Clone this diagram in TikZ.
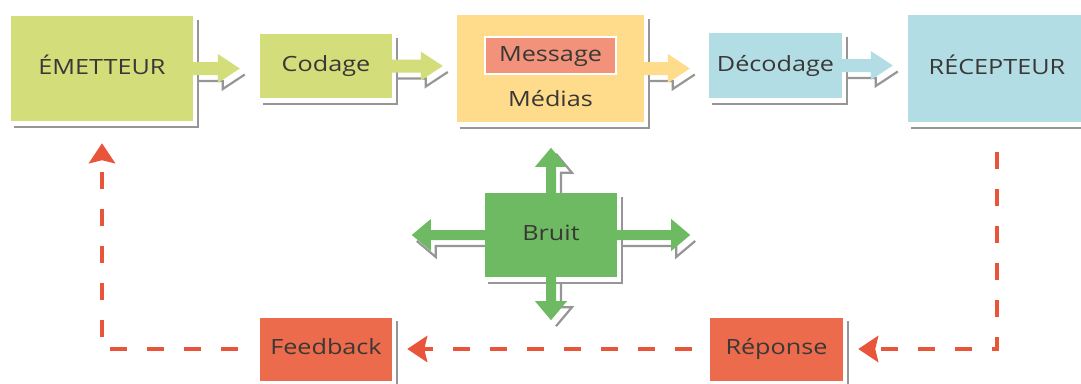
\documentclass[tikz,border=0pt]{standalone}
\usepackage{fontspec}
\setmainfont{Open Sans}[FakeStretch=1.2]
\usetikzlibrary{arrows.meta,calc}

\definecolor{cLime}{RGB}{211,221,121}
\definecolor{cYellow}{RGB}{255,219,140}
\definecolor{cSalmon}{RGB}{242,146,122}
\definecolor{cBlue}{RGB}{179,221,228}
\definecolor{cGreen}{RGB}{109,186,99}
\definecolor{cRed}{RGB}{236,107,76}
\definecolor{fbRed}{RGB}{233,85,58}
\definecolor{txtGray}{RGB}{58,56,54}
\definecolor{shGray}{RGB}{150,150,150}

\pgfdeclarelayer{shadowlayer}
\pgfsetlayers{shadowlayer,main}

% horizontal block arrow: tail, tip, path options
\newcommand\hblock[3]{%
  \path[#3] let \p1=(#1), \p2=(#2), \n1={sign(\x2-\x1)} in
  (\x1,{\y1+\arshaft}) -- ({\x2-(\n1)*\arheadl},{\y1+\arshaft})
  -- ({\x2-(\n1)*\arheadl},{\y1+\arheadw}) -- (\x2,\y1)
  -- ({\x2-(\n1)*\arheadl},{\y1-\arheadw}) -- ({\x2-(\n1)*\arheadl},{\y1-\arshaft})
  -- (\x1,{\y1-\arshaft}) -- cycle;}
% its drop shadow: the lower outline, moved right and down
\newcommand\hshadow[3]{%
  \path[#3] let \p1=(#1), \p2=(#2), \n1={sign(\x2-\x1)} in
  ({\x1+5pt},{\y1-\arshaft-6pt}) -- ({\x2-(\n1)*\arheadl+5pt},{\y1-\arshaft-6pt})
  -- ({\x2-(\n1)*\arheadl+5pt},{\y1-\arheadw-6pt}) -- ({\x2+5pt},{\y1-6pt});}
% vertical block arrow: tail, tip, path options
\newcommand\vblock[3]{%
  \path[#3] let \p1=(#1), \p2=(#2), \n1={sign(\y2-\y1)} in
  ({\x1+\arshaft},\y1) -- ({\x1+\arshaft},{\y2-(\n1)*\arheadl})
  -- ({\x1+\arheadw},{\y2-(\n1)*\arheadl}) -- (\x1,\y2)
  -- ({\x1-\arheadw},{\y2-(\n1)*\arheadl}) -- ({\x1-\arshaft},{\y2-(\n1)*\arheadl})
  -- ({\x1-\arshaft},\y1) -- cycle;}
% its drop shadow: the right outline, moved right and down
\newcommand\vshadow[3]{%
  \path[#3] let \p1=(#1), \p2=(#2), \n1={sign(\y2-\y1)} in
  ({\x1+\arshaft+5pt},{\y1-6pt}) -- ({\x1+\arshaft+5pt},{\y2-(\n1)*\arheadl-6pt})
  -- ({\x1+\arheadw+5pt},{\y2-(\n1)*\arheadl-6pt}) -- ({\x1+5pt},{\y2-6pt});}

\begin{document}
\begin{tikzpicture}[x=1pt,y=-1pt,
  panel/.style={rectangle,inner sep=0pt,text=txtGray,text height=15pt,text depth=4pt,
    font=\fontsize{21}{25}\selectfont},
  boxshadow/.style={draw=shGray,line width=2.2pt},
  fb/.style={draw=fbRed,line width=4.5pt,dash pattern=on 17pt off 20pt},
  fbtip/.style={-{Stealth[length=20pt,width=26pt,inset=3pt]}}
]
\useasboundingbox (0,0) rectangle (1081,383);

% top row
\node[panel,fill=cLime,minimum width=182pt,minimum height=105pt] (emet) at (102,68.5) {ÉMETTEUR};
\node[panel,fill=cLime,minimum width=132pt,minimum height=64pt] (cod) at (326,66) {Codage};
\node[panel,fill=cYellow,minimum width=187pt,minimum height=107pt] (med) at (550.5,68.5) {};
\node[panel,fill=cSalmon,draw=white,line width=2pt,minimum width=131pt,minimum height=37pt] (msg) at (550.5,55.5) {Message};
\node[panel] (medlbl) at (550.5,101) {Médias};
\node[panel,fill=cBlue,minimum width=133pt,minimum height=65pt] (dec) at (775.5,65.5) {Décodage};
\node[panel,fill=cBlue,minimum width=178pt,minimum height=107pt] (rec) at (997,68.5) {RÉCEPTEUR};

% noise
\node[panel,fill=cGreen,minimum width=132pt,minimum height=84pt] (bruit) at (551,235) {Bruit};

% feedback row
\node[panel,fill=cRed,minimum width=132pt,minimum height=63pt] (feed) at (326,349) {Feedback};
\node[panel,fill=cRed,minimum width=133pt,minimum height=63pt] (rep) at (776.5,349) {Réponse};

% block arrows of the top row
\def\arshaft{6.5pt}\def\arheadw{14.5pt}\def\arheadl{22pt}
\hblock{emet.east}{[xshift=-20pt]cod.west}{fill=cLime}
\hblock{cod.east}{[xshift=-14pt]med.west}{fill=cLime}
\hblock{med.east}{[xshift=-19pt]dec.west}{fill=cYellow}
\hblock{dec.east}{[xshift=-15pt]rec.west}{fill=cBlue}
\begin{pgfonlayer}{shadowlayer}
  \hshadow{emet.east}{[xshift=-20pt]cod.west}{boxshadow}
  \hshadow{cod.east}{[xshift=-14pt]med.west}{boxshadow}
  \hshadow{med.east}{[xshift=-19pt]dec.west}{boxshadow}
  \hshadow{dec.east}{[xshift=-15pt]rec.west}{boxshadow}
\end{pgfonlayer}

% noise arrows
\def\arshaft{5pt}\def\arheadw{16pt}\def\arheadl{19pt}
\vblock{bruit.north}{[yshift=45pt]bruit.north}{fill=cGreen}
\vblock{bruit.south}{[yshift=-43pt]bruit.south}{fill=cGreen}
\hblock{bruit.west}{[xshift=-73pt]bruit.west}{fill=cGreen}
\hblock{bruit.east}{[xshift=73pt]bruit.east}{fill=cGreen}
\begin{pgfonlayer}{shadowlayer}
  \vshadow{bruit.north}{[yshift=45pt]bruit.north}{boxshadow}
  \vshadow{bruit.south}{[yshift=-43pt]bruit.south}{boxshadow}
  \hshadow{bruit.west}{[xshift=-73pt]bruit.west}{boxshadow}
  \hshadow{bruit.east}{[xshift=73pt]bruit.east}{boxshadow}
  % box shadows: right and bottom edges
  \foreach \n in {emet,cod,med,dec,rec,bruit,feed,rep}
    \draw[boxshadow] ([shift={(5,4)}]\n.north east) -- ([shift={(5,6)}]\n.south east)
      -- ([shift={(3,6)}]\n.south west);
\end{pgfonlayer}

% feedback loop
\draw[fb,fbtip,shorten >=15pt] ([yshift=-30pt]rec.south) |- (rep.east);
\draw[fb,fbtip,shorten <=18pt,shorten >=15pt] (rep.west) -- (feed.east);
\draw[fb,fbtip,shorten <=22pt,shorten >=22pt] (feed.west) -| (emet.south);
\end{tikzpicture}
\end{document}
